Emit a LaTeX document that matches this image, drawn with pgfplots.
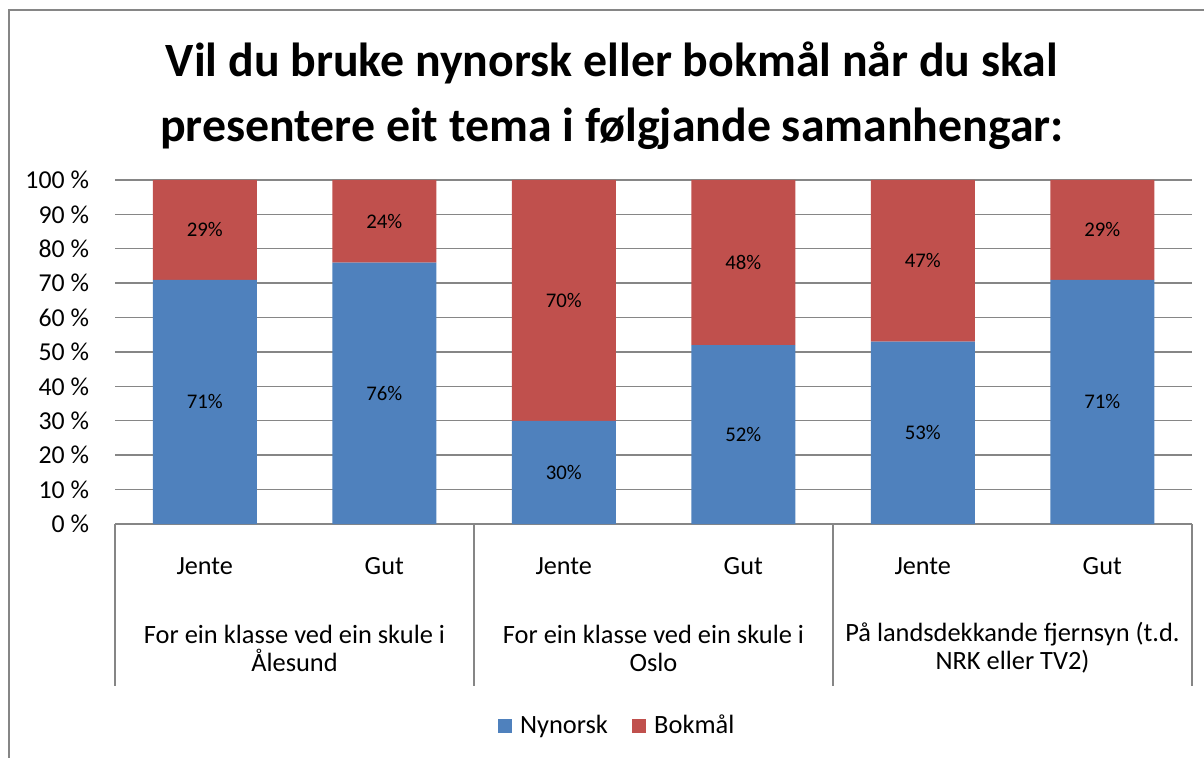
\documentclass[border=0pt]{standalone}
\usepackage{pgfplots}
\pgfplotsset{compat=1.18}
\usepackage{fontspec}
\setmainfont{Carlito}
\definecolor{nyblue}{HTML}{4F81BD}
\definecolor{bkred}{HTML}{C0504D}
\definecolor{linegray}{HTML}{868686}
\begin{document}
\begin{tikzpicture}
\useasboundingbox (0,0) rectangle (602bp,379bp);
% chart border
\draw[linegray, line width=1bp] (4.5bp,-2bp) -- (4.5bp,374bp) -- (604bp,374bp);
% title
\node[align=center, font=\fontsize{23.9bp}{32.5bp}\selectfont\bfseries] at (306bp,331.25bp)
  {Vil du bruke nynorsk eller bokmål når du skal\\presentere eit tema i følgjande samanhengar:};
\begin{axis}[
  at={(57.5bp,117bp)}, anchor=south west,
  scale only axis, width=538.5bp, height=172bp,
  ybar stacked, bar width=52bp,
  xmin=0.5, xmax=6.5, ymin=0, ymax=100,
  xtick={1,...,6}, xticklabels={Jente,Gut,Jente,Gut,Jente,Gut},
  ytick={0,10,...,100},
  yticklabels={0 \%,10 \%,20 \%,30 \%,40 \%,50 \%,60 \%,70 \%,80 \%,90 \%,100 \%},
  major tick length=0pt,
  axis line style={draw=none},
  ymajorgrids, grid style={linegray, line width=0.7bp},
  ticklabel style={font=\fontsize{12.9bp}{14bp}\selectfont},
  yticklabel style={xshift=-9.5bp},
  xticklabel style={anchor=center, yshift=-21bp, font=\fontsize{13.1bp}{14bp}\selectfont},
  clip=false,
  legend style={draw=none, at={(axis description cs:0.467,-0.587)}, anchor=center,
    legend columns=2, font=\fontsize{13.2bp}{14bp}\selectfont,
    /tikz/every even column/.append style={column sep=10bp}},
  legend image code/.code={\fill[#1] (0bp,-3.6bp) rectangle (7.2bp,3.6bp);},
]
\addplot[fill=nyblue, draw=none] coordinates {(1,71) (2,76) (3,30) (4,52) (5,53) (6,71)};
\addplot[fill=bkred, draw=none] coordinates {(1,29) (2,24) (3,70) (4,48) (5,47) (6,29)};
\legend{\hspace{2bp}Nynorsk,\hspace{2bp}Bokmål}
\draw[linegray, line width=0.8bp] (axis cs:0.5,0) -- (axis cs:6.5,0);
\draw[linegray, line width=0.8bp] (axis cs:0.5,0) -- ([yshift=-81bp]axis cs:0.5,0);
\draw[linegray, line width=0.8bp] (axis cs:2.5,0) -- ([yshift=-81bp]axis cs:2.5,0);
\draw[linegray, line width=0.8bp] (axis cs:4.5,0) -- ([yshift=-81bp]axis cs:4.5,0);
\draw[linegray, line width=0.8bp] (axis cs:6.5,0) -- ([yshift=-81bp]axis cs:6.5,0);
\node[align=center, font=\fontsize{13.2bp}{14bp}\selectfont] at ([yshift=-62bp]axis cs:1.5,0)
  {For ein klasse ved ein skule i\\Ålesund};
\node[align=center, font=\fontsize{13.2bp}{14bp}\selectfont] at ([yshift=-62bp]axis cs:3.5,0)
  {For ein klasse ved ein skule i\\Oslo};
\node[align=center, font=\fontsize{13.2bp}{14bp}\selectfont] at ([yshift=-62bp]axis cs:5.5,0)
  {På landsdekkande fjernsyn (t.d.\\NRK eller TV2)};
\end{axis}
\begin{axis}[
  at={(57.5bp,117bp)}, anchor=south west,
  scale only axis, width=538.5bp, height=172bp,
  xmin=0.5, xmax=6.5, ymin=0, ymax=100,
  hide axis, clip=false,
]
\addplot[draw=none, mark=none, nodes near coords, point meta=explicit symbolic,
  nodes near coords align=center,
  every node near coord/.append style={font=\fontsize{10.4bp}{12bp}\selectfont}]
  coordinates {(1,35.5)[71\%] (2,38)[76\%] (3,15)[30\%] (4,26)[52\%] (5,26.5)[53\%] (6,35.5)[71\%]};
\addplot[draw=none, mark=none, nodes near coords, point meta=explicit symbolic,
  nodes near coords align=center,
  every node near coord/.append style={font=\fontsize{10.4bp}{12bp}\selectfont}]
  coordinates {(1,85.5)[29\%] (2,88)[24\%] (3,65)[70\%] (4,76)[48\%] (5,76.5)[47\%] (6,85.5)[29\%]};
\end{axis}
\end{tikzpicture}
\end{document}
